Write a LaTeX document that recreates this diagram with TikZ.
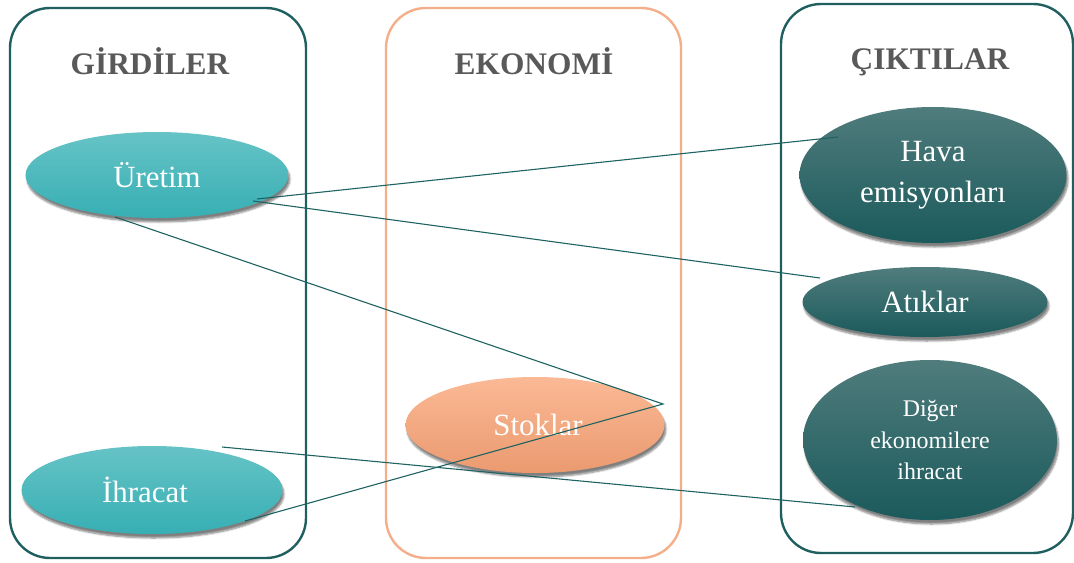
\documentclass[tikz,border=0pt]{standalone}
\usepackage{fontspec}
\setmainfont{Liberation Serif}
\usetikzlibrary{shapes.geometric,shadows.blur}

\definecolor{frameteal}{HTML}{1F5F5F}
\definecolor{framepeach}{HTML}{F4AE8A}
\definecolor{linkteal}{HTML}{1E6262}
\definecolor{titlegray}{HTML}{595959}
\definecolor{lighttop}{HTML}{66C3C6}
\definecolor{lightmid}{HTML}{47BFC5}
\definecolor{lightbot}{HTML}{37AFB4}
\definecolor{darktop}{HTML}{507C7C}
\definecolor{darkmid}{HTML}{2A6869}
\definecolor{darkbot}{HTML}{1B5A5C}
\definecolor{peachtop}{HTML}{FAB995}
\definecolor{peachmid}{HTML}{F7AC84}
\definecolor{peachbot}{HTML}{EB9A6F}

\tikzset{
  panel/.style={draw, line width=2.4bp, rounded corners=40bp},
  paneltitle/.style={font=\fontsize{31.5}{36}\selectfont\bfseries, text=titlegray},
  blob/.style={ellipse, inner sep=0pt, text=white, align=center,
    font=\fontsize{31}{40}\selectfont,
    blur shadow={shadow xshift=1.5bp, shadow yshift=-4bp, shadow blur steps=6, shadow opacity=50}},
  inputblob/.style={blob, top color=lighttop, middle color=lightmid, bottom color=lightbot},
  outputblob/.style={blob, top color=darktop, middle color=darkmid, bottom color=darkbot},
  stockblob/.style={blob, top color=peachtop, middle color=peachmid, bottom color=peachbot},
  link/.style={draw=linkteal, line width=1.1bp},
}

\begin{document}
\begin{tikzpicture}[x=1bp, y=-1bp]
  \useasboundingbox (0,0) rectangle (1074,563);

  % three panels
  \draw[panel, frameteal]  (10,8) rectangle (306,558);
  \draw[panel, framepeach] (386,8) rectangle (681,558);
  \draw[panel, frameteal]  (781,4) rectangle (1073,553);

  \node[paneltitle, anchor=base] (tin)  at (150,75) {GİRDİLER};
  \node[paneltitle, anchor=base] (teco) at (534,75) {EKONOMİ};
  \node[paneltitle, anchor=base] (tout) at (930,70) {ÇIKTILAR};

  % inputs
  \node[inputblob, minimum width=263bp, minimum height=86bp] (uretim) at (157,175) {\raisebox{-2bp}{Üretim}};
  \node[inputblob, minimum width=261bp, minimum height=88bp] (ihracat) at (152,490) {\raisebox{-3bp}{\hspace*{-14bp}İhracat}};

  % economy
  \node[stockblob, minimum width=259bp, minimum height=96bp] (stoklar) at (535,425) {\raisebox{-4bp}{\hspace*{6bp}Stoklar}};

  % outputs
  \node[outputblob, minimum width=267bp, minimum height=136bp] (hava) at (933,175) {\raisebox{1bp}{Hava}\\emisyonları};
  \node[outputblob, minimum width=245bp, minimum height=70bp] (atik) at (925,302) {\raisebox{-2bp}{Atıklar}};
  \node[outputblob, minimum width=254bp, minimum height=160bp,
        font=\fontsize{24}{32}\selectfont] (diger) at (930,440) {Diğer\\ekonomilere\\ihracat};

  % connector end points on the shapes
  \coordinate (u1) at (257,199);
  \coordinate (u2) at (253,201);
  \coordinate (u3) at (115,217);
  \coordinate (h1) at (838,137);
  \coordinate (a1) at (820,278);
  \coordinate (s1) at (663,404);
  \coordinate (i1) at (245,521);
  \coordinate (i2) at (222,447);
  \coordinate (d1) at (855,507);

  \draw[link] (u1) -- (h1);
  \draw[link] (u2) -- (a1);
  \draw[link] (u3) -- (s1) -- (i1);
  \draw[link] (i2) -- (d1);
\end{tikzpicture}
\end{document}
